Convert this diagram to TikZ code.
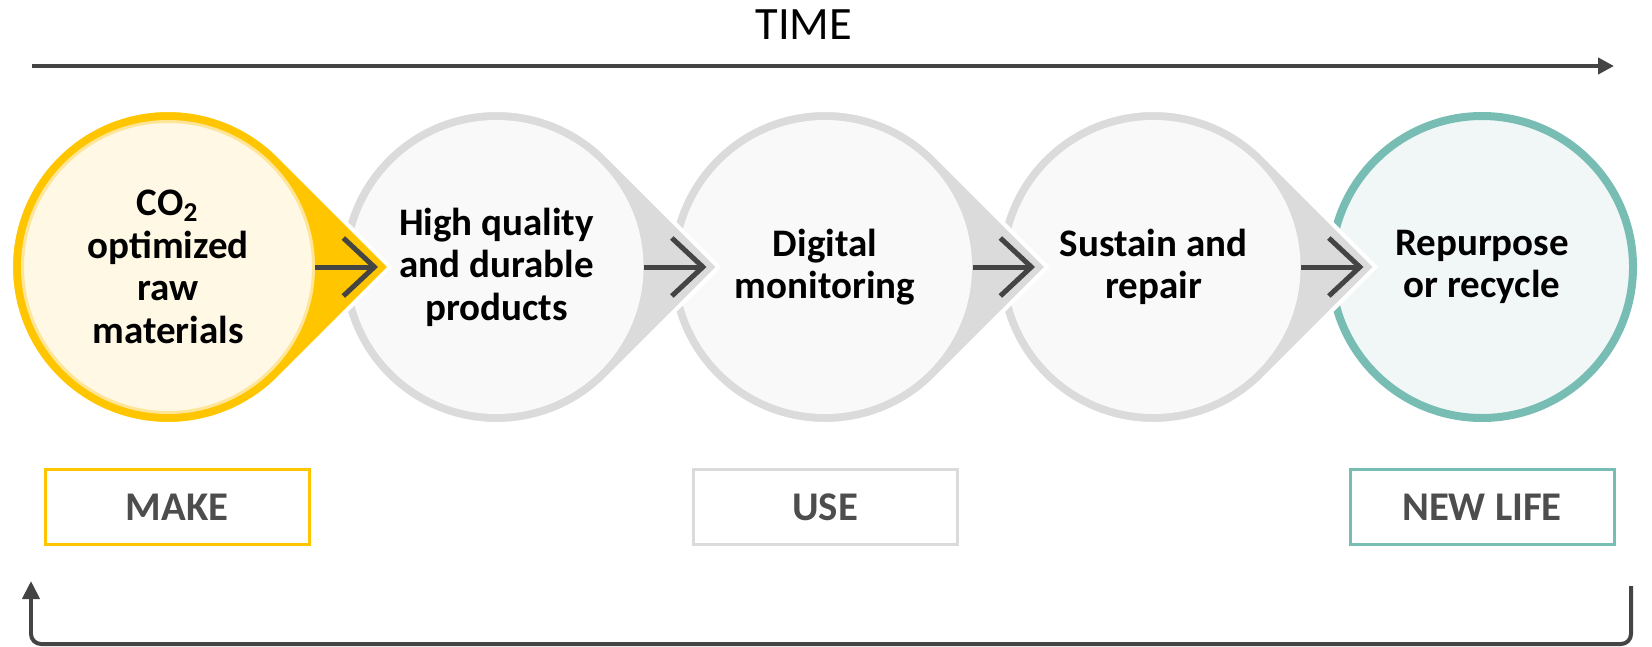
\documentclass[tikz,border=0pt]{standalone}
\usepackage{fontspec}
\setmainfont{Carlito}
\usepackage{xcolor}
\usepackage{tikz}
\usetikzlibrary{
  positioning,
  arrows.meta,
  calc
}

\definecolor{makeyellow}{HTML}{FFC600}
\definecolor{makelight}{HTML}{FFE598}
\definecolor{makecream}{HTML}{FEF8E4}
\definecolor{usegray}{HTML}{DBDBDB}
\definecolor{usefill}{HTML}{F9F9F9}
\definecolor{lifeteal}{HTML}{77BDB3}
\definecolor{lifefill}{HTML}{F0F7F6}
\definecolor{arrowgray}{HTML}{444444}
\definecolor{labelgray}{HTML}{4D4D4D}

\begin{document}
\begin{tikzpicture}[
  stage/.style={
    circle,
    inner sep=0pt,
    minimum size=2.94cm,
    align=center,
    fill=usefill,
    text=black,
    font=\fontsize{11.1}{12.1}\selectfont\bfseries
  },
  tear/.style={
    fill=usegray,
    draw=white,
    line width=0.04cm
  },
  phase/.style={
    rectangle,
    draw,
    line width=0.03cm,
    minimum width=2.64cm,
    minimum height=0.75cm,
    fill=white,
    text=labelgray,
    font=\fontsize{11.6}{13}\selectfont\bfseries
  },
  flow/.style={
    -{Straight Barb[length=0.31cm,width=0.58cm]},
    line width=0.05cm,
    draw=arrowgray
  },
  timeline/.style={
    -{Triangle[length=0.16cm,width=0.16cm]},
    line width=0.04cm,
    draw=arrowgray
  },
  loopback/.style={
    -{Triangle[length=0.18cm,width=0.17cm]},
    line width=0.04cm,
    rounded corners=0.1cm,
    draw=arrowgray
  }
]
\useasboundingbox (0,0) rectangle (16.52,6.46);

% Time axis
\node[font=\fontsize{13.2}{14}\selectfont] (time) at (8.04,6.21) {TIME};
\coordinate (tstart) at (0.32,5.80);
\coordinate (tend) at (16.14,5.80);
\draw[timeline] (tstart) -- (tend);

% Stage centres (spacing 3.285cm)
\coordinate (c1) at (1.68,3.79);
\coordinate (c2) at (4.965,3.79);
\coordinate (c3) at (8.25,3.79);
\coordinate (c4) at (11.535,3.79);
\coordinate (c5) at (14.82,3.79);

% Arrow ends (just before each tip)
\coordinate (t1) at ($(c1)+(2.10,0)$);
\coordinate (t2) at ($(c2)+(2.10,0)$);
\coordinate (t3) at ($(c3)+(2.10,0)$);
\coordinate (t4) at ($(c4)+(2.10,0)$);

% Stage 5: new life (drawn first, tips overlap it)
\node[stage, draw=lifeteal, fill=lifefill, line width=0.08cm, minimum size=3.02cm] (s5) at (c5) {Repurpose\\or recycle};

% Stage 4
\fill[tear] ($(c4)+(2.22,0)$) -- ($(c4)+(45:1.57)$) arc[start angle=45, end angle=315, radius=1.57] -- cycle;
\node[stage] (s4) at (c4) {Sustain and\\repair};
\draw[flow] (s4.east) -- (t4);

% Stage 3
\fill[tear] ($(c3)+(2.22,0)$) -- ($(c3)+(45:1.57)$) arc[start angle=45, end angle=315, radius=1.57] -- cycle;
\node[stage] (s3) at (c3) {Digital\\monitoring};
\draw[flow] (s3.east) -- (t3);

% Stage 2
\fill[tear] ($(c2)+(2.22,0)$) -- ($(c2)+(45:1.57)$) arc[start angle=45, end angle=315, radius=1.57] -- cycle;
\node[stage] (s2) at (c2) {High quality\\and durable\\products};
\draw[flow] (s2.east) -- (t2);

% Stage 1: make
\fill[tear, fill=makeyellow] ($(c1)+(2.22,0)$) -- ($(c1)+(45:1.57)$) arc[start angle=45, end angle=315, radius=1.57] -- cycle;
\node[stage, fill=makecream, draw=makelight, line width=0.03cm, minimum size=2.91cm] (s1) at (c1) {CO\textsubscript{2}\\optimized\\raw\\materials};
\draw[flow] (s1.east) -- (t1);

% Phases
\node[phase, draw=makeyellow] (make) at (1.77,1.39) {MAKE};
\node[phase, draw=usegray] (use) at (8.25,1.39) {USE};
\node[phase, draw=lifeteal] (newlife) at (14.82,1.39) {NEW LIFE};

% Loop back to the start
\coordinate (back1) at (16.31,0.60);
\coordinate (back2) at (0.31,0.02);
\coordinate (back3) at (0.31,0.65);
\draw[loopback] (back1) |- (back2) -- (back3);

\end{tikzpicture}
\end{document}
